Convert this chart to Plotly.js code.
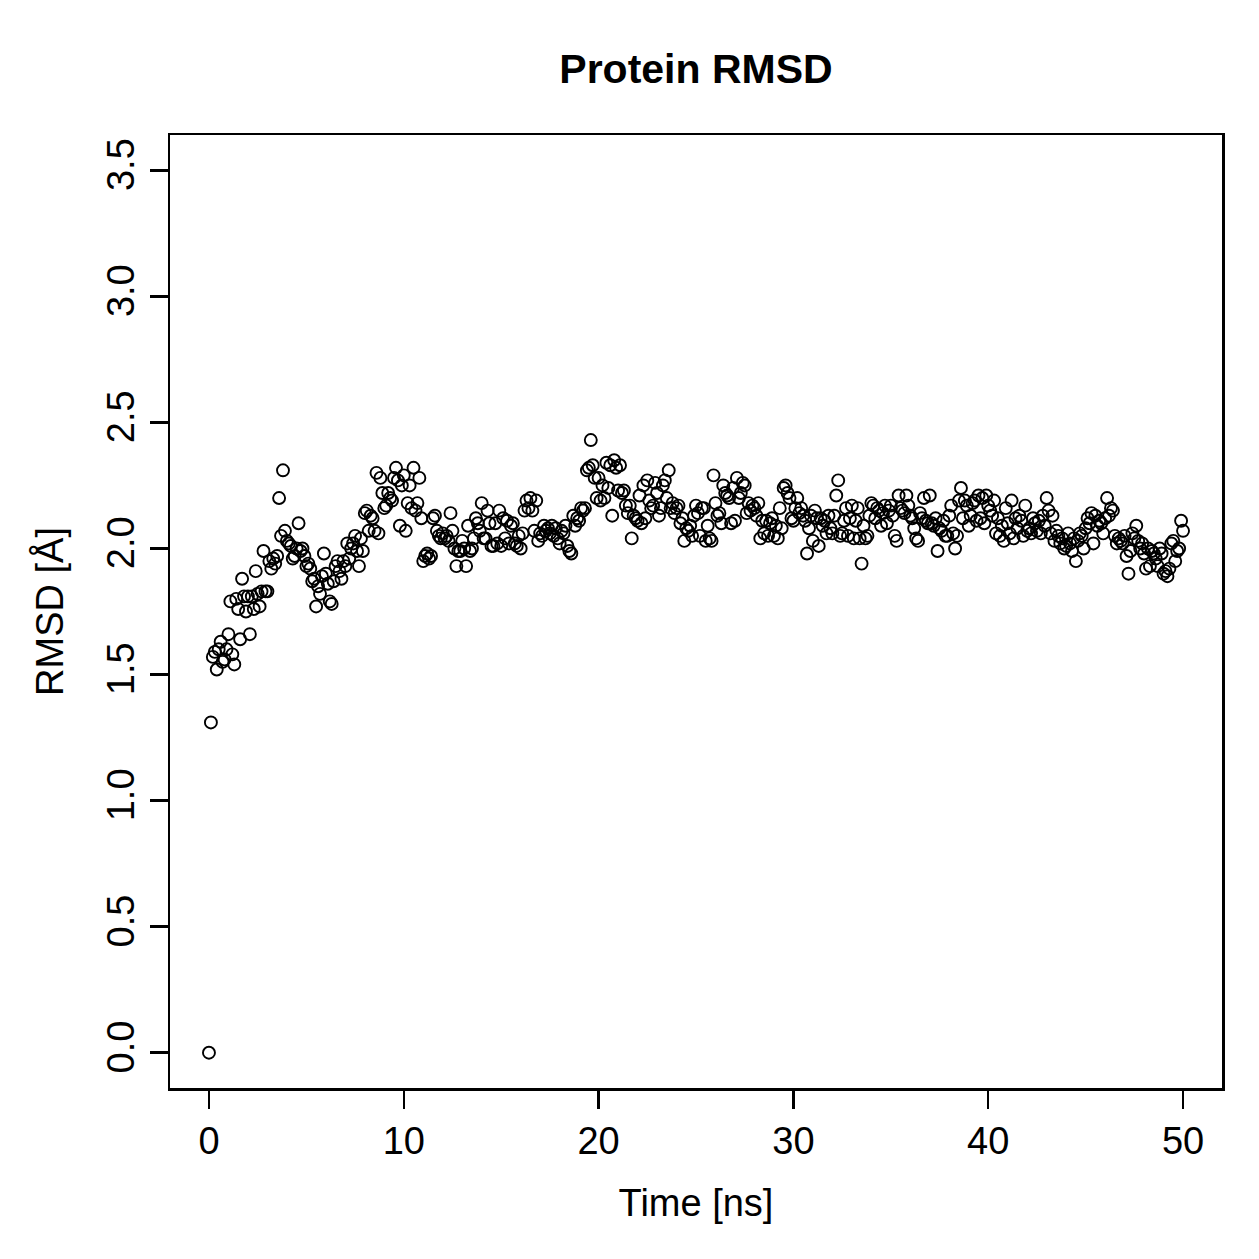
<!DOCTYPE html>
<html>
<head>
<meta charset="utf-8">
<script src="https://cdn.plot.ly/plotly-3.0.1.min.js"></script>
<style>html,body{margin:0;padding:0;background:#fff;}#chart{width:1259px;height:1259px;}</style>
</head>
<body>
<div id="chart"></div>
<script>
// Simulation time (ns), sampled every 0.1 ns
const timeNs = [
0.0,0.1,0.2,0.3,0.4,0.5,0.6,0.7,0.8,0.9,
1.0,1.1,1.2,1.3,1.4,1.5,1.6,1.7,1.8,1.9,
2.0,2.1,2.2,2.3,2.4,2.5,2.6,2.7,2.8,2.9,
3.0,3.1,3.2,3.3,3.4,3.5,3.6,3.7,3.8,3.9,
4.0,4.1,4.2,4.3,4.4,4.5,4.6,4.7,4.8,4.9,
5.0,5.1,5.2,5.3,5.4,5.5,5.6,5.7,5.8,5.9,
6.0,6.1,6.2,6.3,6.4,6.5,6.6,6.7,6.8,6.9,
7.0,7.1,7.2,7.3,7.4,7.5,7.6,7.7,7.8,7.9,
8.0,8.1,8.2,8.3,8.4,8.5,8.6,8.7,8.8,8.9,
9.0,9.1,9.2,9.3,9.4,9.5,9.6,9.7,9.8,9.9,
10.0,10.1,10.2,10.3,10.4,10.5,10.6,10.7,10.8,10.9,
11.0,11.1,11.2,11.3,11.4,11.5,11.6,11.7,11.8,11.9,
12.0,12.1,12.2,12.3,12.4,12.5,12.6,12.7,12.8,12.9,
13.0,13.1,13.2,13.3,13.4,13.5,13.6,13.7,13.8,13.9,
14.0,14.1,14.2,14.3,14.4,14.5,14.6,14.7,14.8,14.9,
15.0,15.1,15.2,15.3,15.4,15.5,15.6,15.7,15.8,15.9,
16.0,16.1,16.2,16.3,16.4,16.5,16.6,16.7,16.8,16.9,
17.0,17.1,17.2,17.3,17.4,17.5,17.6,17.7,17.8,17.9,
18.0,18.1,18.2,18.3,18.4,18.5,18.6,18.7,18.8,18.9,
19.0,19.1,19.2,19.3,19.4,19.5,19.6,19.7,19.8,19.9,
20.0,20.1,20.2,20.3,20.4,20.5,20.6,20.7,20.8,20.9,
21.0,21.1,21.2,21.3,21.4,21.5,21.6,21.7,21.8,21.9,
22.0,22.1,22.2,22.3,22.4,22.5,22.6,22.7,22.8,22.9,
23.0,23.1,23.2,23.3,23.4,23.5,23.6,23.7,23.8,23.9,
24.0,24.1,24.2,24.3,24.4,24.5,24.6,24.7,24.8,24.9,
25.0,25.1,25.2,25.3,25.4,25.5,25.6,25.7,25.8,25.9,
26.0,26.1,26.2,26.3,26.4,26.5,26.6,26.7,26.8,26.9,
27.0,27.1,27.2,27.3,27.4,27.5,27.6,27.7,27.8,27.9,
28.0,28.1,28.2,28.3,28.4,28.5,28.6,28.7,28.8,28.9,
29.0,29.1,29.2,29.3,29.4,29.5,29.6,29.7,29.8,29.9,
30.0,30.1,30.2,30.3,30.4,30.5,30.6,30.7,30.8,30.9,
31.0,31.1,31.2,31.3,31.4,31.5,31.6,31.7,31.8,31.9,
32.0,32.1,32.2,32.3,32.4,32.5,32.6,32.7,32.8,32.9,
33.0,33.1,33.2,33.3,33.4,33.5,33.6,33.7,33.8,33.9,
34.0,34.1,34.2,34.3,34.4,34.5,34.6,34.7,34.8,34.9,
35.0,35.1,35.2,35.3,35.4,35.5,35.6,35.7,35.8,35.9,
36.0,36.1,36.2,36.3,36.4,36.5,36.6,36.7,36.8,36.9,
37.0,37.1,37.2,37.3,37.4,37.5,37.6,37.7,37.8,37.9,
38.0,38.1,38.2,38.3,38.4,38.5,38.6,38.7,38.8,38.9,
39.0,39.1,39.2,39.3,39.4,39.5,39.6,39.7,39.8,39.9,
40.0,40.1,40.2,40.3,40.4,40.5,40.6,40.7,40.8,40.9,
41.0,41.1,41.2,41.3,41.4,41.5,41.6,41.7,41.8,41.9,
42.0,42.1,42.2,42.3,42.4,42.5,42.6,42.7,42.8,42.9,
43.0,43.1,43.2,43.3,43.4,43.5,43.6,43.7,43.8,43.9,
44.0,44.1,44.2,44.3,44.4,44.5,44.6,44.7,44.8,44.9,
45.0,45.1,45.2,45.3,45.4,45.5,45.6,45.7,45.8,45.9,
46.0,46.1,46.2,46.3,46.4,46.5,46.6,46.7,46.8,46.9,
47.0,47.1,47.2,47.3,47.4,47.5,47.6,47.7,47.8,47.9,
48.0,48.1,48.2,48.3,48.4,48.5,48.6,48.7,48.8,48.9,
49.0,49.1,49.2,49.3,49.4,49.5,49.6,49.7,49.8,49.9,
50.0
];

// Protein RMSD (Å)
const rmsd = [
0.00,1.31,1.57,1.59,1.52,1.60,1.63,1.55,1.56,1.60,
1.66,1.79,1.58,1.54,1.80,1.76,1.64,1.88,1.81,1.75,
1.81,1.66,1.81,1.76,1.91,1.82,1.77,1.83,1.99,1.83,
1.83,1.95,1.92,1.96,1.94,1.97,2.20,2.05,2.31,2.07,
2.03,2.02,2.01,1.96,1.97,2.00,2.10,1.99,2.00,1.97,
1.93,1.94,1.92,1.87,1.88,1.77,1.85,1.82,1.89,1.98,
1.90,1.86,1.79,1.78,1.87,1.93,1.95,1.91,1.88,1.95,
1.93,2.02,1.96,2.00,2.02,2.05,1.99,1.93,2.04,1.99,
2.14,2.15,2.07,2.13,2.12,2.07,2.30,2.06,2.28,2.22,
2.16,2.17,2.22,2.20,2.19,2.28,2.32,2.27,2.09,2.25,
2.29,2.07,2.18,2.25,2.16,2.32,2.15,2.18,2.28,2.12,
1.95,1.97,1.98,1.96,1.97,2.12,2.13,2.07,2.05,2.04,
2.06,2.04,2.05,2.03,2.14,2.07,2.00,1.93,1.99,1.99,
2.03,2.00,1.93,2.09,1.99,2.00,2.04,2.12,2.10,2.07,
2.18,2.04,2.04,2.15,2.10,2.01,2.01,2.10,2.02,2.15,
2.01,2.12,2.04,2.11,2.02,2.09,2.10,2.02,2.01,2.05,
2.00,2.06,2.15,2.19,2.16,2.20,2.15,2.07,2.19,2.03,
2.06,2.05,2.09,2.07,2.08,2.06,2.09,2.05,2.08,2.04,
2.02,2.07,2.06,2.09,2.01,1.99,1.98,2.13,2.09,2.12,
2.11,2.16,2.15,2.16,2.31,2.32,2.43,2.33,2.28,2.20,
2.28,2.19,2.25,2.20,2.34,2.24,2.33,2.13,2.35,2.32,
2.23,2.33,2.22,2.23,2.17,2.14,2.17,2.04,2.13,2.12,
2.11,2.21,2.10,2.25,2.12,2.27,2.19,2.16,2.17,2.26,
2.22,2.13,2.16,2.25,2.27,2.20,2.31,2.16,2.18,2.14,
2.16,2.17,2.10,2.12,2.03,2.08,2.07,2.09,2.05,2.13,
2.17,2.14,2.05,2.16,2.16,2.03,2.09,2.04,2.03,2.29,
2.18,2.13,2.14,2.10,2.25,2.22,2.21,2.20,2.10,2.24,
2.11,2.28,2.20,2.22,2.26,2.25,2.14,2.18,2.15,2.17,
2.16,2.13,2.18,2.04,2.11,2.06,2.11,2.05,2.10,2.12,
2.05,2.09,2.04,2.16,2.08,2.24,2.25,2.22,2.20,2.12,
2.11,2.16,2.20,2.14,2.16,2.13,2.11,1.98,2.08,2.13,
2.03,2.15,2.12,2.01,2.12,2.09,2.11,2.06,2.13,2.08,
2.06,2.13,2.21,2.27,2.05,2.06,2.11,2.16,2.05,2.12,
2.17,2.04,2.11,2.16,2.04,1.94,2.09,2.04,2.05,2.13,
2.18,2.17,2.12,2.16,2.15,2.09,2.14,2.17,2.10,2.15,
2.17,2.13,2.05,2.03,2.21,2.16,2.15,2.14,2.21,2.17,
2.13,2.12,2.08,2.04,2.03,2.14,2.12,2.20,2.11,2.10,
2.21,2.10,2.09,2.12,1.99,2.08,2.07,2.11,2.05,2.05,
2.13,2.17,2.06,2.00,2.05,2.19,2.24,2.12,2.19,2.17,
2.09,2.13,2.18,2.19,2.11,2.21,2.12,2.20,2.10,2.21,
2.17,2.15,2.13,2.19,2.06,2.12,2.05,2.09,2.03,2.16,
2.10,2.06,2.19,2.04,2.12,2.08,2.13,2.11,2.05,2.17,
2.07,2.08,2.06,2.12,2.10,2.07,2.11,2.06,2.13,2.09,
2.20,2.15,2.06,2.13,2.03,2.07,2.05,2.02,2.04,2.00,
2.01,2.06,2.02,1.99,2.04,1.95,2.03,2.06,2.05,2.00,
2.08,2.12,2.10,2.14,2.02,2.13,2.09,2.11,2.10,2.06,
2.12,2.20,2.13,2.16,2.15,2.05,2.02,2.04,2.03,2.02,
2.05,1.97,1.90,1.99,2.06,2.04,2.09,2.03,2.00,2.02,
1.98,1.92,2.00,1.93,1.99,1.98,1.96,1.93,2.00,1.98,
1.90,1.91,1.89,1.92,2.02,2.03,1.95,1.99,2.00,2.11,
2.07
];

const xTicks = [0, 10, 20, 30, 40, 50];
const yTicks = [0.0, 0.5, 1.0, 1.5, 2.0, 2.5, 3.0, 3.5];
const yTickLabels = ["0.0", "0.5", "1.0", "1.5", "2.0", "2.5", "3.0", "3.5"];

const FONT = "Liberation Sans, Arial, Helvetica, sans-serif";

const trace = {
  x: timeNs,
  y: rmsd,
  type: "scatter",
  mode: "markers",
  marker: {
    symbol: "circle-open",
    size: 12,
    color: "#000000",
    line: { color: "#000000", width: 1.9 }
  },
  hoverinfo: "x+y"
};

const layout = {
  width: 1259,
  height: 1259,
  paper_bgcolor: "#ffffff",
  plot_bgcolor: "#ffffff",
  showlegend: false,
  margin: { l: 170, r: 37, t: 135, b: 171, pad: 0 },
  font: { family: FONT, size: 38, color: "#000000" },
  title: {
    text: "<b>Protein RMSD</b>",
    font: { family: FONT, size: 41, color: "#000000" },
    x: 0.5528, xanchor: "center",
    y: 1 - 69 / 1259, yanchor: "middle"
  },
  xaxis: {
    range: [-2, 52],
    tickvals: xTicks,
    ticktext: xTicks.map(String),
    ticks: "outside",
    ticklen: 18,
    tickwidth: 2.5,
    tickcolor: "#000000",
    showline: true,
    linecolor: "#000000",
    linewidth: 2.5,
    mirror: true,
    showgrid: false,
    zeroline: false,
    tickfont: { family: FONT, size: 38, color: "#000000" },
    title: { text: "Time [ns]", font: { family: FONT, size: 38, color: "#000000" }, standoff: 29 },
    automargin: false
  },
  yaxis: {
    range: [-0.14, 3.64],
    tickvals: yTicks,
    ticktext: yTickLabels,
    tickangle: -90,
    ticks: "outside",
    ticklen: 18,
    tickwidth: 2.5,
    tickcolor: "#000000",
    showline: true,
    linecolor: "#000000",
    linewidth: 2.5,
    mirror: true,
    showgrid: false,
    zeroline: false,
    tickfont: { family: FONT, size: 38, color: "#000000" },
    title: { text: "RMSD [Å]", font: { family: FONT, size: 38, color: "#000000" }, standoff: 25 },
    automargin: false
  }
};

Plotly.newPlot("chart", [trace], layout, { displayModeBar: false, staticPlot: true });
</script>
</body>
</html>
